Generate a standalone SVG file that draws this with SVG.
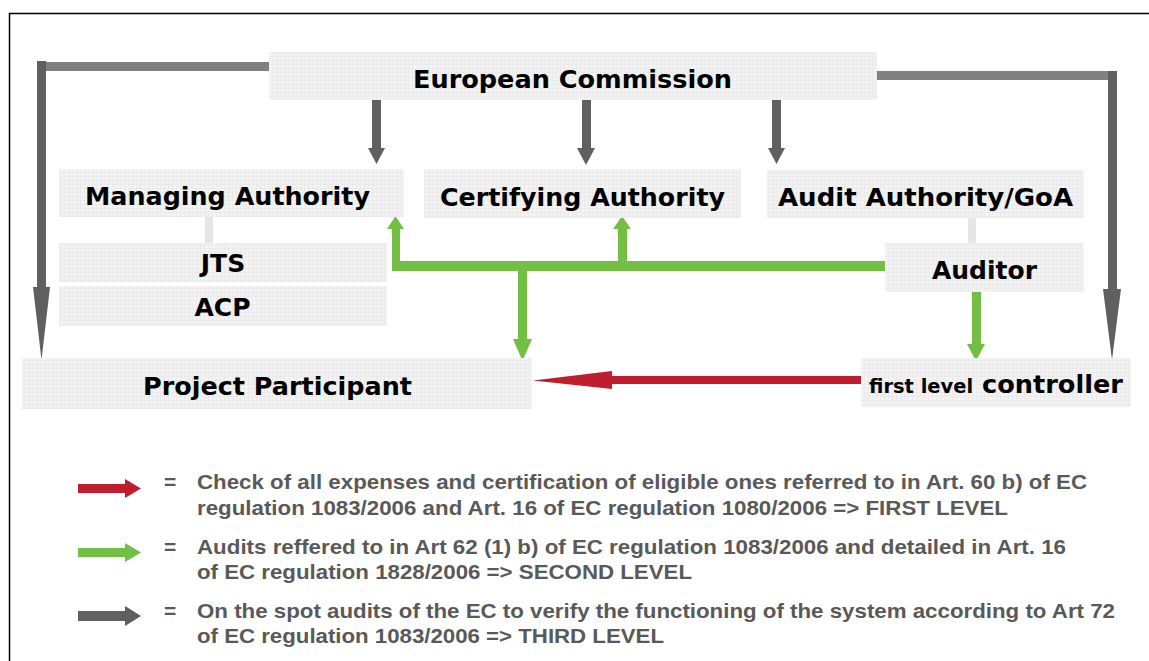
<svg xmlns="http://www.w3.org/2000/svg" width="1149" height="661" viewBox="0 0 1149 661">
<defs>
<pattern id="grid" width="4" height="4" patternUnits="userSpaceOnUse">
<rect width="4" height="4" fill="#f3f3f3"/>
<path d="M0 0.5H4M0.5 0V4" stroke="#ebebeb" stroke-width="1" fill="none"/>
</pattern>
<style>
.box{fill:url(#grid);}
.lbl{font-family:"DejaVu Sans","Liberation Sans",sans-serif;font-weight:bold;font-size:25px;fill:#000;text-anchor:middle;}
.gray{fill:#606060;}
.grayh{fill:#808080;}
.green{fill:#72BF44;}
.red{fill:#BE1E2D;}
.tie{fill:#e6e6e6;}
.leg{font-family:"Liberation Sans",Arial,sans-serif;font-weight:bold;font-size:21px;fill:#595959;}
</style>
</defs>
<rect width="1149" height="661" fill="#fff"/>
<path d="M9.5 661V13.5H1149" fill="none" stroke="#000" stroke-width="1.5"/>

<g id="connectors">
<!-- third level (gray) -->
<rect class="grayh" x="37" y="62" width="232" height="9"/>
<polygon class="gray" points="37,61 46,61 46,287 50,287 41.5,360 33,287 37,287"/>
<rect class="grayh" x="877" y="71" width="240" height="9"/>
<polygon class="gray" points="1108,71 1117,71 1117,289 1121,289 1112,360 1103,289 1108,289"/>
<polygon class="gray" points="372,98 381,98 381,148 385,148 376.5,164 368,148 372,148"/>
<polygon class="gray" points="582,98 591,98 591,148 595,148 586,165 577,148 582,148"/>
<polygon class="gray" points="772,98 781,98 781,148 785,148 776.5,164 768,148 772,148"/>
<!-- ties -->
<rect class="tie" x="205" y="217" width="8" height="26"/>
<rect class="tie" x="968" y="218" width="8" height="25"/>
<!-- second level (green) -->
<rect class="green" x="392" y="261" width="493" height="10"/>
<polygon class="green" points="392,271 392,229 387,229 395.5,216 404,229 400,229 400,271"/>
<polygon class="green" points="618,266 618,229 613,229 622,216 631,229 627,229 627,266"/>
<polygon class="green" points="518,266 527,266 527,339 532,339 522.5,361 513,339 518,339"/>
<polygon class="green" points="972,292 981,292 981,344 985,344 976,361 967,344 972,344"/>
<!-- first level (red) -->
<polygon class="red" points="861,376 861,384 612,384 612,389 533,380.5 612,371 612,376"/>
</g>

<g id="european-commission">
<rect class="box" x="269" y="52" width="608" height="48"/>
<text class="lbl" x="572.5" y="88" textLength="319" lengthAdjust="spacingAndGlyphs">European Commission</text>
</g>
<g id="managing-authority">
<rect class="box" x="59" y="169" width="345" height="48"/>
<text class="lbl" x="227.5" y="205" textLength="285" lengthAdjust="spacingAndGlyphs">Managing Authority</text>
</g>
<g id="certifying-authority">
<rect class="box" x="424" y="169" width="317" height="49"/>
<text class="lbl" x="582.5" y="206" textLength="285" lengthAdjust="spacingAndGlyphs">Certifying Authority</text>
</g>
<g id="audit-authority">
<rect class="box" x="767" y="170" width="317" height="48"/>
<text class="lbl" x="925.5" y="206" textLength="295" lengthAdjust="spacingAndGlyphs">Audit Authority/GoA</text>
</g>
<g id="jts">
<rect class="box" x="59" y="243" width="328" height="39"/>
<text class="lbl" x="223" y="272">JTS</text>
</g>
<g id="acp">
<rect class="box" x="59" y="286" width="328" height="40"/>
<text class="lbl" x="222.5" y="316">ACP</text>
</g>
<g id="auditor">
<rect class="box" x="885" y="243" width="199" height="49"/>
<text class="lbl" x="984.5" y="279">Auditor</text>
</g>
<g id="first-level-controller">
<rect class="box" x="861" y="358" width="270" height="49"/>
<text class="lbl" x="869" y="393" style="text-anchor:start" textLength="254" lengthAdjust="spacingAndGlyphs"><tspan font-size="19">first level</tspan> controller</text>
</g>
<g id="project-participant">
<rect class="box" x="22" y="358" width="510" height="51"/>
<text class="lbl" x="277.5" y="395" textLength="269" lengthAdjust="spacingAndGlyphs">Project Participant</text>
</g>

<g id="legend">
<polygon class="red" points="78,484 125,484 125,479 141,488.5 125,498 125,493 78,493"/>
<polygon class="green" points="78,548 125,548 125,543 141,552.5 125,562 125,557 78,557"/>
<polygon class="gray" points="78,611 125,611 125,606 141,616 125,626 125,621 78,621"/>
<text class="leg" x="164" y="489">=</text>
<text class="leg" x="164" y="554">=</text>
<text class="leg" x="164" y="618">=</text>
<text class="leg" x="197" y="489" textLength="890" lengthAdjust="spacingAndGlyphs">Check of all expenses and certification of eligible ones referred to in Art. 60 b) of EC</text>
<text class="leg" x="197" y="515" textLength="811" lengthAdjust="spacingAndGlyphs">regulation 1083/2006 and Art. 16 of EC regulation 1080/2006 =&gt; FIRST LEVEL</text>
<text class="leg" x="197" y="554" textLength="869" lengthAdjust="spacingAndGlyphs">Audits reffered to in Art 62 (1) b) of EC regulation 1083/2006 and detailed in Art. 16</text>
<text class="leg" x="197" y="579" textLength="495" lengthAdjust="spacingAndGlyphs">of EC regulation 1828/2006 =&gt; SECOND LEVEL</text>
<text class="leg" x="197" y="618" textLength="918" lengthAdjust="spacingAndGlyphs">On the spot audits of the EC to verify the functioning of the system according to Art 72</text>
<text class="leg" x="197" y="643" textLength="467" lengthAdjust="spacingAndGlyphs">of EC regulation 1083/2006 =&gt; THIRD LEVEL</text>
</g>
</svg>
